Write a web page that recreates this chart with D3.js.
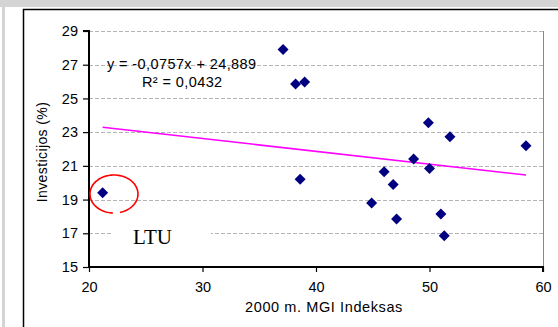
<!DOCTYPE html>
<html><head><meta charset="utf-8">
<script src="https://cdn.jsdelivr.net/npm/d3@7"></script>
<style>html,body{margin:0;padding:0;background:#fff;}svg{display:block;}</style>
</head><body>
<svg id="c" width="558" height="327"></svg>
<script>
// ---- data ----
const mgi = [21.2, 37.1, 38.2, 39.0, 49.9, 51.8, 58.5, 48.6, 50.0, 38.6, 46.0, 46.8, 44.9, 47.1, 51.0, 51.3];
const inv = [19.4, 27.9, 25.85, 25.97, 23.56, 22.73, 22.2, 21.4, 20.85, 20.2, 20.65, 19.9, 18.8, 17.85, 18.15, 16.85];
const trendSlope = -0.0757, trendIntercept = 24.889;
const equationLines = ["y = -0,0757x + 24,889", "R² = 0,0432"];
const xTicks = [20, 30, 40, 50, 60];
const yTicks = [15, 17, 19, 21, 23, 25, 27, 29];
const xTitle = "2000 m. MGI Indeksas";
const yTitle = "Investicijos (%)";
const highlightLabel = "LTU";
const highlightCenter = [22.2, 19.33];

const svg = d3.select("#c");
const font = "Liberation Sans, Arial, sans-serif";
const x = d3.scaleLinear().domain([20, 60]).range([89, 543]);
const y = d3.scaleLinear().domain([15, 29]).range([267, 31]);

// outer frame
svg.append("rect").attr("x",0).attr("y",0).attr("width",558).attr("height",7).attr("fill","#d4d4d4");
svg.append("rect").attr("x",2).attr("y",7).attr("width",3).attr("height",320).attr("fill","#d4d4d4");
svg.append("path").attr("d","M23.5,327V9.5H558").attr("fill","none").attr("stroke","#000").attr("stroke-width",1.5);

// gridlines
svg.append("g").selectAll("line").data(yTicks.filter(d=>d>15)).join("line")
  .attr("x1",x(20)).attr("x2",x(60)).attr("y1",d=>Math.round(y(d))+0.5).attr("y2",d=>Math.round(y(d))+0.5)
  .attr("stroke","#b4b4b4").attr("stroke-dasharray","4,2").attr("stroke-width",1);
// right border of plot area
svg.append("line").attr("x1",x(60)+0.5).attr("x2",x(60)+0.5).attr("y1",y(29)).attr("y2",y(15))
  .attr("stroke","#888").attr("stroke-width",1);

// axes
const yAxis = svg.append("g").attr("transform",`translate(${x(20)},0)`)
  .call(d3.axisLeft(y).tickValues(yTicks).tickSize(6).tickPadding(5).tickFormat(d3.format("d")));
const xAxis = svg.append("g").attr("transform",`translate(0,${y(15)})`)
  .call(d3.axisBottom(x).tickValues(xTicks).tickSize(5).tickPadding(10).tickFormat(d3.format("d")));
[yAxis, xAxis].forEach(a=>{
  a.select(".domain").attr("stroke","#000").attr("stroke-width",2);
  a.selectAll(".tick line").attr("stroke","#000").attr("stroke-width",1.2);
  a.selectAll("text").attr("font-family",font).attr("font-size",14.5).attr("fill","#000");
});
yAxis.select(".domain").attr("d",`M-6,${y(29)}H0V${y(15)}`);
xAxis.select(".domain").attr("d",`M${x(20)},0H${x(60)}V5`);

// LTU label with white box
svg.append("rect").attr("x",113).attr("y",222).attr("width",98).attr("height",26).attr("fill","#fff");
svg.append("text").attr("x",133).attr("y",244).attr("font-family","Liberation Serif, Times New Roman, serif")
  .attr("font-size",21).text(highlightLabel);

// trendline
const xs = d3.extent(mgi);
svg.append("line").attr("x1",x(xs[0])).attr("x2",x(xs[1]))
  .attr("y1",y(trendSlope*xs[0]+trendIntercept)).attr("y2",y(trendSlope*xs[1]+trendIntercept))
  .attr("stroke","#ff00ff").attr("stroke-width",1.5);

// markers
svg.append("g").selectAll("path").data(mgi.map((d,i)=>[d,inv[i]])).join("path")
  .attr("transform",d=>`translate(${x(d[0])},${y(d[1])})`)
  .attr("d","M0,-5.5L5.5,0L0,5.5L-5.5,0Z").attr("fill","#000080");

// red ellipse (open at bottom)
const cx = x(highlightCenter[0]), cy = y(highlightCenter[1]), rx = 24, ry = 19;
const a0 = 92.5*Math.PI/180, a1 = (75.5+360)*Math.PI/180;
const pts = d3.range(0, 101).map(i=>{const t=a0+(a1-a0)*i/100; return [cx+rx*Math.cos(t), cy+ry*Math.sin(t)];});
svg.append("path").attr("d",d3.line()(pts)).attr("fill","none").attr("stroke","#ff0000").attr("stroke-width",1.6);

// equation
svg.append("text").attr("x",107).attr("y",69).attr("font-family",font).attr("font-size",14.5).attr("letter-spacing",0.4).text(equationLines[0]);
svg.append("text").attr("x",142).attr("y",87).attr("font-family",font).attr("font-size",14.5).attr("letter-spacing",0.4).text(equationLines[1]);

// titles
svg.append("text").attr("x",324).attr("y",312).attr("text-anchor","middle").attr("font-family",font)
  .attr("font-size",14.5).attr("letter-spacing",0.6).text(xTitle);
svg.append("text").attr("transform","translate(47,152) rotate(-90)").attr("text-anchor","middle")
  .attr("font-family",font).attr("font-size",14).attr("letter-spacing",0.4).text(yTitle);
</script>
</body></html>
